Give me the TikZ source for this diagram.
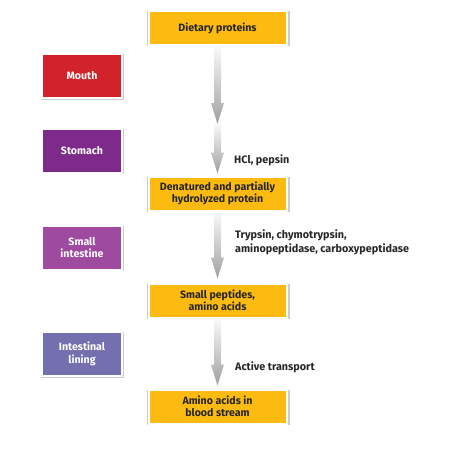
\documentclass[tikz,border=0pt]{standalone}
\usepackage{fontspec}
\setmainfont{Fira Sans}
\usetikzlibrary{shadows,calc}
\definecolor{boxyellow}{HTML}{FDBB12}
\definecolor{mouthred}{HTML}{D2232A}
\definecolor{stomachpurple}{HTML}{7D2A8B}
\definecolor{smallpurple}{HTML}{9E4A9F}
\definecolor{liningblue}{HTML}{746FAE}
\newcommand\grayarrow[2]{%
  \path[shading=axis, top color=gray!5, bottom color=gray!75]
    let \p1=(#1), \p2=(#2) in
    (\x1-3.5pt,\y1) -- (\x1+3.5pt,\y1) -- (\x1+3.5pt,\y2+21pt) -- (\x1+6.5pt,\y2+21pt)
    -- (\x1,\y2) -- (\x1-6.5pt,\y2+21pt) -- (\x1-3.5pt,\y2+21pt) -- cycle;}
\begin{document}
\begin{tikzpicture}[x=1pt,y=-1pt,
  basebox/.style={rectangle, draw=white, line width=2pt, inner sep=0pt, align=center,
    font=\bfseries\fontsize{10.6}{12.5}\selectfont,
    general shadow={shadow xshift=0.6pt, shadow yshift=-0.8pt, opacity=0.2, fill=black, shadow scale=1.035},
    drop shadow={shadow xshift=0.6pt, shadow yshift=-1pt, opacity=0.35, fill=black!70}},
  ybox/.style={basebox, fill=boxyellow, minimum width=138pt, minimum height=34pt, text=black!85},
  sbox/.style={basebox, minimum width=80pt, minimum height=44pt, text=white},
  lbl/.style={font=\bfseries\fontsize{10.8}{14}\selectfont, anchor=west, align=left, inner sep=0pt, text=black!85}]
\useasboundingbox (0,0) rectangle (448,471);
\node[ybox] (d1) at (217.5,28) {Dietary proteins};
\node[ybox] (d2) at (217.5,193.5) {Denatured and partially\\hydrolyzed protein};
\node[ybox] (d3) at (217.5,300.5) {Small peptides,\\amino acids};
\node[ybox] (d4) at (217.5,406.5) {Amino acids in\\blood stream};
\node[sbox, fill=mouthred] (mouth) at (82,76) {Mouth};
\node[sbox, fill=stomachpurple] (stomach) at (82,150.5) {Stomach};
\node[sbox, fill=smallpurple] (small) at (82,247.5) {Small\\intestine};
\node[sbox, fill=liningblue] (lining) at (82,354) {Intestinal\\lining};
\coordinate (m1) at (217.5,124);
\grayarrow{[yshift=-1pt]d1.south}{m1}
\grayarrow{m1}{[yshift=2pt]d2.north}
\grayarrow{[yshift=-1pt]d2.south}{[yshift=4pt]d3.north}
\grayarrow{[yshift=-1pt]d3.south}{[yshift=3pt]d4.north}
\node[lbl] (hcl) at (234,160) {HCl, pepsin};
\node[lbl] (tryp) at (235,242) {Trypsin, chymotrypsin,\\aminopeptidase, carboxypeptidase};
\node[lbl] (act) at (235,367) {Active transport};
\end{tikzpicture}
\end{document}
